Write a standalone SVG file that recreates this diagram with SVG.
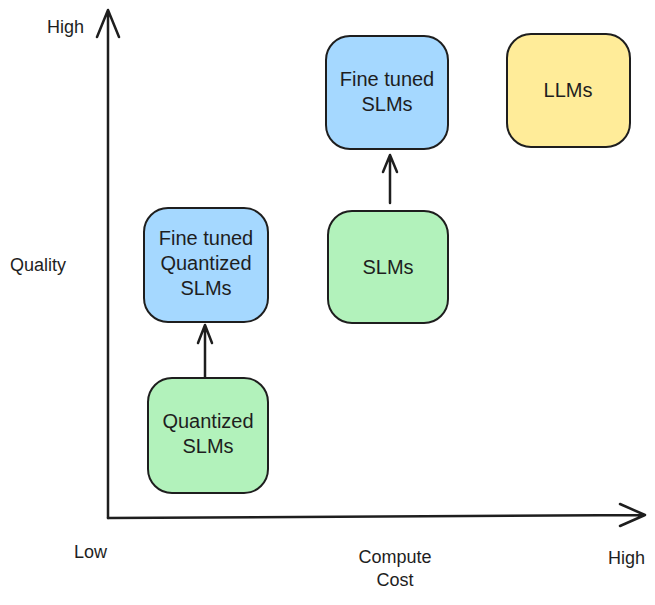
<svg xmlns="http://www.w3.org/2000/svg" width="655" height="605" viewBox="0 0 655 605">
<defs>
<style>
.box{stroke:#1e1e1e;stroke-width:2;}
.blue{fill:#a5d8ff;}
.green{fill:#b2f2bb;}
.yellow{fill:#ffec99;}
.t{font-family:"Liberation Sans",Arial,sans-serif;font-size:20px;fill:#1e1e1e;text-anchor:middle;dominant-baseline:central;}
.lbl{font-family:"Liberation Sans",Arial,sans-serif;font-size:18px;fill:#1e1e1e;dominant-baseline:central;}
.line{stroke:#1e1e1e;stroke-width:2.5;fill:none;stroke-linecap:round;stroke-linejoin:round;}
</style>
</defs>
<rect width="655" height="605" fill="#ffffff"/>
<g id="axes">
<path class="line" d="M108,518 L108,10 M97,37 L108,10 L119,37"/>
<path class="line" d="M108,518 L645,515 M620,504 L645,515 L620,526"/>
</g>
<g id="axis-labels">
<text class="lbl" x="47" y="27">High</text>
<text class="lbl" x="10" y="265">Quality</text>
<text class="lbl" x="74" y="552">Low</text>
<text class="lbl" x="395" y="557" text-anchor="middle">Compute</text>
<text class="lbl" x="395" y="580" text-anchor="middle">Cost</text>
<text class="lbl" x="608" y="558">High</text>
</g>
<g id="connectors">
<path class="line" d="M390,203 L390,155 M383,172 L390,155 L397,172"/>
<path class="line" d="M205,377 L205,325 M198,343 L205,325 L212,343"/>
</g>
<g id="fine-tuned-slms">
<rect class="box blue" x="326" y="36" width="122" height="113" rx="24"/>
<text class="t" x="387" y="79">Fine tuned</text>
<text class="t" x="387" y="104">SLMs</text>
</g>
<g id="llms">
<rect class="box yellow" x="507" y="34" width="123" height="113" rx="24"/>
<text class="t" x="568" y="90">LLMs</text>
</g>
<g id="slms">
<rect class="box green" x="328" y="211" width="120" height="112" rx="24"/>
<text class="t" x="388" y="267">SLMs</text>
</g>
<g id="fine-tuned-quantized-slms">
<rect class="box blue" x="144" y="208" width="124" height="114" rx="24"/>
<text class="t" x="206" y="238">Fine tuned</text>
<text class="t" x="206" y="263">Quantized</text>
<text class="t" x="206" y="288">SLMs</text>
</g>
<g id="quantized-slms">
<rect class="box green" x="148" y="378" width="120" height="115" rx="24"/>
<text class="t" x="208" y="421">Quantized</text>
<text class="t" x="208" y="446">SLMs</text>
</g>
</svg>
